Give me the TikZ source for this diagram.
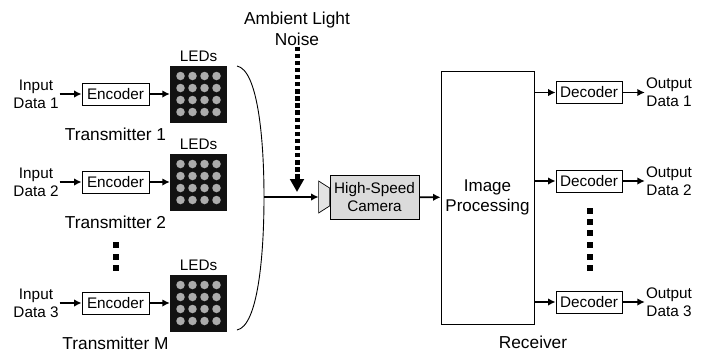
\documentclass[tikz,border=0pt]{standalone}
\usepackage{fontspec}
\setmainfont{Liberation Sans}
\usetikzlibrary{arrows,arrows.meta,calc}
\tikzset{
    block/.style = {draw, rectangle, line width=.8pt, inner sep=0pt,
        minimum height=22pt,
        minimum width=67pt, align=center, font=\fontsize{15.3}{18}\selectfont},
    camblock/.style = {block, fill=gray!28, minimum height=44pt, minimum width=89pt},
    procblock/.style = {block, minimum height=253pt, minimum width=93pt, font=\fontsize{17}{20.5}\selectfont},
    ledpanel/.style = {rectangle, fill=black!93, inner sep=0pt, minimum size=57pt},
    led/.style = {circle, fill=gray!65, inner sep=0pt, minimum size=8.5pt},
    txt/.style = {align=center, inner sep=1pt, font=\fontsize{15.3}{18}\selectfont},
    biglabel/.style = {align=center, inner sep=1pt, font=\fontsize{17.3}{21}\selectfont},
    arrow/.style = {draw, -{Latex[length=7.5pt,width=7.5pt]}, line width=1.7pt},
    noiseline/.style = {draw, -{Triangle[length=13pt,width=13.5pt]}, line width=5pt, dash pattern=on 4.4pt off 2.7pt},
    dotmark/.style = {rectangle, fill=black, inner sep=0pt, minimum size=6pt}
}
\newcommand{\ledgrid}[1]{
    \foreach \i in {-18,-6,6,18}
        \foreach \j in {-18,-6,6,18}
            \node [led] (#1-\i-\j) at ($(#1)+(\i,\j)$) {};
}

\begin{document}
\begin{tikzpicture}[x=1pt, y=-1pt, node distance=40pt, >=latex]
        \useasboundingbox (0,0) rectangle (707,354);
        % first transmitter
        \node [txt] (in1) at (36,94) {Input\\Data 1};
        \node [block, right of=in1, node distance=79.5pt] (enc1) {Encoder};
        \node [ledpanel, right of=enc1, node distance=83pt] (tx1) {};
        \ledgrid{tx1}
        \node [txt, above of=tx1, node distance=38pt] (lab1) {LEDs};
        \node [biglabel, below of=enc1, node distance=40pt] (name1) {Transmitter 1};
        \draw [arrow] (in1) -- (enc1);
        \draw [arrow] (enc1) -- (tx1);
        % second transmitter
        \node [txt] (in2) at (36,182) {Input\\Data 2};
        \node [block, right of=in2, node distance=79.5pt] (enc2) {Encoder};
        \node [ledpanel, right of=enc2, node distance=83pt] (tx2) {};
        \ledgrid{tx2}
        \node [txt, above of=tx2, node distance=38pt] (lab2) {LEDs};
        \node [biglabel, below of=enc2, node distance=40pt] (name2) {Transmitter 2};
        \draw [arrow] (in2) -- (enc2);
        \draw [arrow] (enc2) -- (tx2);
        % dots
        \foreach \y in {245,257,268}
            \node [dotmark] (gap\y) at (116,\y) {};
        % last transmitter
        \node [txt] (in3) at (36,303) {Input\\Data 3};
        \node [block, right of=in3, node distance=79.5pt] (enc3) {Encoder};
        \node [ledpanel, right of=enc3, node distance=83pt] (tx3) {};
        \ledgrid{tx3}
        \node [txt, above of=tx3, node distance=38pt] (lab3) {LEDs};
        \node [biglabel, below of=enc3, node distance=40pt] (name3) {Transmitter M};
        \draw [arrow] (in3) -- (enc3);
        \draw [arrow] (enc3) -- (tx3);
        % channel
        \coordinate (bustop) at (237,66);
        \coordinate (busmid) at (264,197);
        \coordinate (busbot) at (237,330);
        \draw [line width=.9pt] (bustop) .. controls (258,70) and (264,140) .. (busmid)
            .. controls (264,255) and (258,326) .. (busbot);
        % camera
        \node [camblock] (cam) at (374.5,197) {High-Speed\\Camera};
        \draw [line width=.7pt, fill=gray!22] (cam.west) ++(0,-9) -- ++(-11,-7) -- ++(0,32) -- ++(11,-7) -- cycle;
        \coordinate (lens) at ($(cam.west)+(-11,0)$);
        \draw [arrow] (busmid) -- (lens);
        \node [biglabel] (noise) at (297,28.5) {Ambient Light\\Noise};
        \coordinate (hit) at (297,192);
        \draw [noiseline] (noise) -- (hit);
        % receiver
        \node [procblock] (proc) at (487.5,197.5) {Image\\Processing};
        \node [biglabel] (rx) at (533,342) {Receiver};
        \draw [arrow] (cam) -- (proc);
        \node [block, minimum width=66pt] (dec1) at (589,92.5) {Decoder};
        \node [txt, right of=dec1, node distance=80pt] (out1) {Output\\Data 1};
        \draw [arrow] (proc.east |- dec1) -- (dec1);
        \draw [arrow] (dec1) -- (out1);
        \node [block, minimum width=66pt] (dec2) at (589,181) {Decoder};
        \node [txt, right of=dec2, node distance=80pt] (out2) {Output\\Data 2};
        \draw [arrow] (proc.east |- dec2) -- (dec2);
        \draw [arrow] (dec2) -- (out2);
        \foreach \y in {211,222,233,245,257,268}
            \node [dotmark] (skip\y) at (590,\y) {};
        \node [block, minimum width=66pt] (dec3) at (589,302) {Decoder};
        \node [txt, right of=dec3, node distance=80pt] (out3) {Output\\Data 3};
        \draw [arrow] (proc.east |- dec3) -- (dec3);
        \draw [arrow] (dec3) -- (out3);
    \end{tikzpicture}
\end{document}
